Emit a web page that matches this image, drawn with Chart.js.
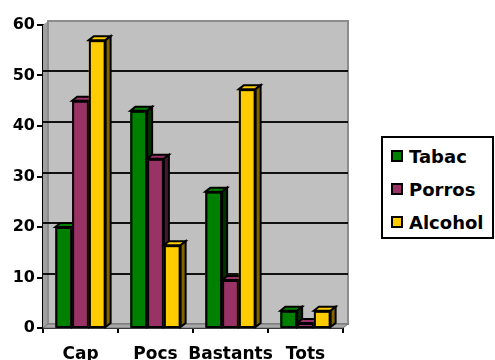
<!DOCTYPE html>
<html>
<head>
<meta charset="utf-8">
<script src="https://cdn.jsdelivr.net/npm/chart.js@4"></script>
<style>
  body { margin: 0; background: #fff; }
  #wrap { position: relative; width: 495px; height: 360px; }
  #legend {
    position: absolute; left: 381px; top: 136px; width: 109px; height: 99px;
    border: 2px solid #000; background: #fff;
    font: bold 18px "DejaVu Sans", sans-serif; color: #000;
  }
  .item { position: absolute; left: 8px; height: 20px; line-height: 20px; white-space: nowrap; }
  .sw { display: inline-block; width: 8px; height: 8px; border: 2px solid #000; margin-right: 6px; vertical-align: 1px; }
</style>
</head>
<body>
<div id="wrap">
  <canvas id="grafik" width="495" height="360"></canvas>
  <div id="legend"></div>
</div>
<script>
const kategoriler = ['Cap', 'Pocs', 'Bastants', 'Tots'];
const tabac = [20, 43, 27, 3.4];
const porros = [45, 33.5, 9.5, 1];
const alcohol = [57, 16.4, 47.3, 3.4];
const seriIsimleri = ['Tabac', 'Porros', 'Alcohol'];
const renkler = ['#008000', '#993366', '#FFCC00'];
const yanRenkler = ['#003300', '#4a1530', '#7f6400'];

// derinlik (3D kayma)
const dx = 5, dy = -4;

const duvarPlugin = {
  id: 'duvar',
  beforeDatasetsDraw(chart) {
    const ctx = chart.ctx, a = chart.chartArea, y = chart.scales.y;
    ctx.save();
    // sol duvar
    ctx.fillStyle = '#a0a0a0';
    ctx.beginPath();
    ctx.moveTo(a.left, a.top); ctx.lineTo(a.left + dx, a.top + dy);
    ctx.lineTo(a.left + dx, a.bottom + dy); ctx.lineTo(a.left, a.bottom);
    ctx.closePath(); ctx.fill();
    // arka duvar
    ctx.fillStyle = '#c0c0c0';
    ctx.fillRect(a.left + dx, a.top + dy, a.right - a.left, a.bottom - a.top);
    ctx.strokeStyle = '#8c8c8c';
    ctx.lineWidth = 2;
    ctx.strokeRect(a.left + dx, a.top + dy, a.right - a.left, a.bottom - a.top);
    // taban
    ctx.fillStyle = '#a8a8a8';
    ctx.beginPath();
    ctx.moveTo(a.left, a.bottom); ctx.lineTo(a.left + dx, a.bottom + dy);
    ctx.lineTo(a.right + dx, a.bottom + dy); ctx.lineTo(a.right, a.bottom);
    ctx.closePath(); ctx.fill();
    ctx.strokeStyle = '#707070';
    ctx.lineWidth = 1;
    ctx.stroke();
    // izgara cizgileri
    ctx.strokeStyle = '#111';
    ctx.lineWidth = 2;
    y.ticks.forEach(t => {
      if (t.value <= 0 || t.value >= 60) return;
      const py = Math.round(y.getPixelForValue(t.value) + dy);
      ctx.beginPath();
      ctx.moveTo(a.left, py);
      ctx.lineTo(a.left + dx, py);
      ctx.lineTo(a.right + dx, py);
      ctx.stroke();
    });
    ctx.restore();
  },
  afterDatasetsDraw(chart) {
    const ctx = chart.ctx;
    ctx.save();
    ctx.lineJoin = 'miter';
    ctx.strokeStyle = '#000';
    for (let i = 0; i < kategoriler.length; i++) {
      chart.data.datasets.forEach((ds, d) => {
        const bar = chart.getDatasetMeta(d).data[i];
        const p = bar.getProps(['x', 'y', 'base', 'width'], true);
        const l = p.x - p.width / 2, r = p.x + p.width / 2;
        ctx.lineWidth = 2;
        // on yuz
        ctx.fillStyle = renkler[d];
        ctx.fillRect(l, p.y, r - l, p.base - p.y);
        // ust yuz
        ctx.beginPath();
        ctx.moveTo(l, p.y); ctx.lineTo(l + dx, p.y + dy);
        ctx.lineTo(r + dx, p.y + dy); ctx.lineTo(r, p.y);
        ctx.closePath();
        ctx.fill();
        ctx.stroke();
        // yan yuz
        ctx.beginPath();
        ctx.moveTo(r, p.y); ctx.lineTo(r + dx, p.y + dy);
        ctx.lineTo(r + dx, p.base + dy); ctx.lineTo(r, p.base);
        ctx.closePath();
        ctx.fillStyle = yanRenkler[d];
        ctx.fill();
        ctx.stroke();
        ctx.strokeRect(l + 1, p.y + 1, r - l - 2, p.base - p.y - 1);
      });
    }
    ctx.restore();
  }
};

const data = {
  labels: kategoriler,
  datasets: [
    { label: seriIsimleri[0], data: tabac, backgroundColor: renkler[0] },
    { label: seriIsimleri[1], data: porros, backgroundColor: renkler[1] },
    { label: seriIsimleri[2], data: alcohol, backgroundColor: renkler[2] }
  ]
};

const config = {
  type: 'bar',
  data: data,
  options: {
    responsive: false,
    animation: false,
    events: [],
    layout: { padding: { top: 25, right: 152, bottom: 0, left: 0 } },
    datasets: { bar: { categoryPercentage: 0.67, barPercentage: 1, borderWidth: 0 } },
    plugins: { legend: { display: false }, tooltip: { enabled: false } },
    scales: {
      x: {
        grid: { display: true, drawOnChartArea: false, drawTicks: true, tickLength: 5, color: '#000', lineWidth: 2, offset: true },
        border: { color: '#000', width: 2 },
        ticks: { color: '#000', font: { family: 'DejaVu Sans', size: 17, weight: 'bold' }, padding: 11, maxRotation: 0, autoSkip: false },
        afterFit: s => { s.height = 32; }
      },
      y: {
        min: 0, max: 60,
        grid: { display: true, drawOnChartArea: false, drawTicks: true, tickLength: 6, color: '#000', lineWidth: 2 },
        border: { color: '#000', width: 2 },
        ticks: { stepSize: 10, color: '#000', font: { family: 'DejaVu Sans', size: 16, weight: 'bold' }, padding: 2 },
        afterFit: s => { s.width = 43; }
      }
    }
  },
  plugins: [duvarPlugin]
};

new Chart(document.getElementById('grafik'), config);

// lejant
const lejant = document.getElementById('legend');
const satirY = [9, 42, 75];
seriIsimleri.forEach((isim, i) => {
  const satir = document.createElement('div');
  satir.className = 'item';
  satir.style.top = satirY[i] + 'px';
  const kutu = document.createElement('span');
  kutu.className = 'sw';
  kutu.style.background = renkler[i];
  satir.appendChild(kutu);
  satir.appendChild(document.createTextNode(isim));
  lejant.appendChild(satir);
});
</script>
</body>
</html>
